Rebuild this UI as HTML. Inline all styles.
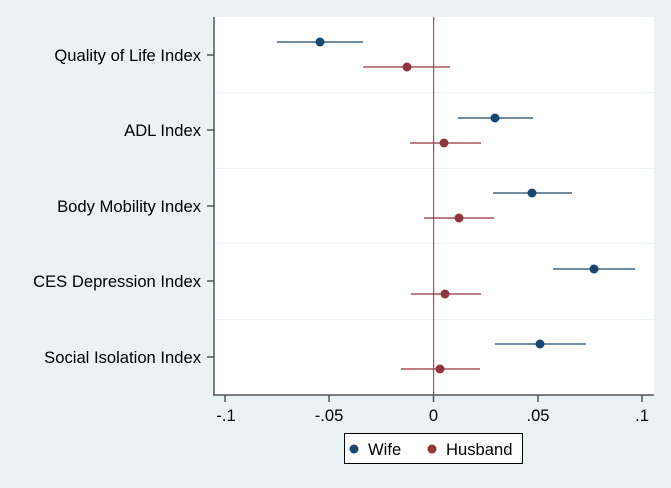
<!DOCTYPE html>
<html><head><style>body{margin:0;background:#eaf2f3;}svg{display:block;font-family:"Liberation Sans",Arial,sans-serif;}</style></head>
<body>
<svg width="671" height="488" viewBox="0 0 671 488">
<rect x="0" y="0" width="671" height="488" fill="#eaf2f3"/>
<rect x="214" y="17" width="440" height="378" fill="#fff"/>
<g stroke="#eaf2f3" stroke-width="1">
<line x1="214" y1="92.5" x2="654" y2="92.5"/><line x1="214" y1="168.5" x2="654" y2="168.5"/>
<line x1="214" y1="243.5" x2="654" y2="243.5"/><line x1="214" y1="319.5" x2="654" y2="319.5"/>
</g>
<rect x="433" y="17" width="1.2" height="378" fill="#c0405e"/>
<g stroke="#555" stroke-width="1.5" fill="none">
<line x1="214" y1="17" x2="214" y2="395"/><line x1="213" y1="395" x2="654" y2="395"/>
<line x1="207" y1="55" x2="214" y2="55"/><line x1="207" y1="130" x2="214" y2="130"/>
<line x1="207" y1="206" x2="214" y2="206"/><line x1="207" y1="281" x2="214" y2="281"/>
<line x1="207" y1="357" x2="214" y2="357"/>
<line x1="225" y1="395" x2="225" y2="402"/><line x1="329" y1="395" x2="329" y2="402"/>
<line x1="433.5" y1="395" x2="433.5" y2="402"/><line x1="538" y1="395" x2="538" y2="402"/>
<line x1="642" y1="395" x2="642" y2="402"/>
</g>
<g font-size="16.6" fill="#000" text-anchor="end">
<text x="201" y="61">Quality of Life Index</text>
<text x="201" y="136">ADL Index</text>
<text x="201" y="212">Body Mobility Index</text>
<text x="201" y="287">CES Depression Index</text>
<text x="201" y="363">Social Isolation Index</text>
</g>
<g font-size="16.6" fill="#000" text-anchor="middle">
<text x="226" y="421">-.1</text><text x="329" y="421">-.05</text><text x="433.5" y="421">0</text>
<text x="538" y="421">.05</text><text x="642" y="421">.1</text>
</g>
<g stroke="#1a476f" stroke-width="1.3">
<line x1="277" y1="42" x2="363" y2="42"/><line x1="458" y1="118" x2="533" y2="118"/>
<line x1="493" y1="193" x2="572" y2="193"/><line x1="553" y1="269" x2="635" y2="269"/>
<line x1="495" y1="344" x2="586" y2="344"/>
</g>
<g fill="#1a476f">
<circle cx="320" cy="42" r="4.5"/><circle cx="495" cy="118" r="4.5"/><circle cx="532" cy="193" r="4.5"/>
<circle cx="594" cy="269" r="4.5"/><circle cx="540" cy="344" r="4.5"/>
</g>
<g stroke="#90353b" stroke-width="1.3">
<line x1="363" y1="67" x2="450" y2="67"/><line x1="410" y1="143" x2="481" y2="143"/>
<line x1="424" y1="218" x2="494" y2="218"/><line x1="411" y1="294" x2="481" y2="294"/>
<line x1="401" y1="369" x2="480" y2="369"/>
</g>
<g fill="#90353b">
<circle cx="407" cy="67" r="4.5"/><circle cx="444" cy="143" r="4.5"/><circle cx="459" cy="218" r="4.5"/>
<circle cx="445" cy="294" r="4.5"/><circle cx="440" cy="369" r="4.5"/>
</g>
<rect x="344.5" y="433.5" width="178" height="30" fill="#fff" stroke="#000" stroke-width="1"/>
<circle cx="354" cy="449" r="4.5" fill="#1a476f"/>
<text x="368" y="455" font-size="16.6">Wife</text>
<circle cx="432" cy="449" r="4.5" fill="#90353b"/>
<text x="446" y="455" font-size="16.6">Husband</text>
</svg>
</body></html>
